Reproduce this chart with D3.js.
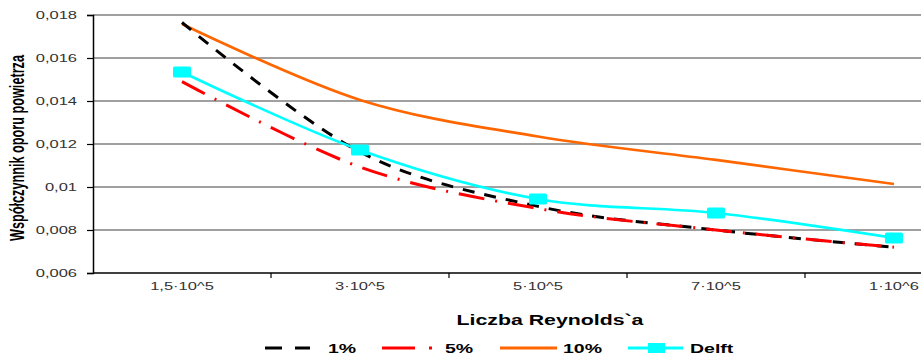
<!DOCTYPE html>
<html>
<head>
<meta charset="utf-8">
<script src="https://cdn.jsdelivr.net/npm/d3@7/dist/d3.min.js"></script>
<style>
  html, body { margin: 0; padding: 0; background: #fff; overflow: hidden; }
  svg { display: block; font-family: "Liberation Sans", Arial, sans-serif; }
</style>
</head>
<body>
<svg id="chart" width="921" height="356"></svg>
<script>
// Reynolds number categories
const categories = ["1,5·10^5", "3·10^5", "5·10^5", "7·10^5", "1·10^6"];

// Air drag coefficient for each series
const series1 = [0.01765, 0.01163, 0.0091, 0.0080, 0.0072];
const series5 = [0.0149, 0.01093, 0.0090, 0.0080, 0.0072];
const series10 = [0.01758, 0.01405, 0.01235, 0.01126, 0.01014];
const seriesDelft = [0.01535, 0.01172, 0.00944, 0.00879, 0.00763];

const seriesNames = ["1%", "5%", "10%", "Delft"];

const yTickValues = [0.006, 0.008, 0.010, 0.012, 0.014, 0.016, 0.018];
const yTickLabels = ["0,006", "0,008", "0,01", "0,012", "0,014", "0,016", "0,018"];

const svg = d3.select("#chart");

const plot = { left: 93, top: 15, bottom: 273, band: 178 };

const x = d3.scaleBand()
  .domain(categories)
  .range([plot.left, plot.left + plot.band * categories.length])
  .paddingInner(0).paddingOuter(0);

const y = d3.scaleLinear()
  .domain([0.006, 0.018])
  .range([plot.bottom, plot.top]);

const cx = d => x(d) + x.bandwidth() / 2;

// Horizontally widened text helper
function wideText(g, str, px, py, opts) {
  const t = g.append("text")
    .attr("transform", `translate(${px},${py}) scale(${opts.sx || 1.5},1)`)
    .attr("font-size", opts.size)
    .attr("font-weight", opts.weight || "normal")
    .attr("fill", opts.fill || "#000")
    .attr("text-anchor", opts.anchor || "start")
    .text(str);
  return t;
}

// Gridlines
svg.append("g")
  .selectAll("line")
  .data(yTickValues.slice(1))
  .join("line")
  .attr("x1", plot.left).attr("x2", plot.left + plot.band * categories.length)
  .attr("y1", d => y(d)).attr("y2", d => y(d))
  .attr("stroke", "#a0a0a0").attr("stroke-width", 2);

// Y axis
const yAxis = svg.append("g")
  .attr("transform", `translate(${plot.left},0)`)
  .call(d3.axisLeft(y).tickValues(yTickValues).tickSize(6).tickFormat(""));
yAxis.select(".domain").attr("stroke", "#000").attr("stroke-width", 1.5);
yAxis.selectAll(".tick line").attr("stroke", "#000").attr("stroke-width", 1.2);

const yLabels = svg.append("g");
yTickValues.forEach((v, i) => {
  wideText(yLabels, yTickLabels[i], 77, y(v) + 4, { size: 11, anchor: "end", fill: "#333", sx: 1.5 });
});

// X axis with ticks at band boundaries
const xAxisG = svg.append("g").attr("transform", `translate(0,${plot.bottom})`);
xAxisG.append("line")
  .attr("x1", plot.left).attr("x2", plot.left + plot.band * categories.length)
  .attr("stroke", "#000").attr("stroke-width", 1.5);
xAxisG.selectAll("line.tick")
  .data(categories.slice(1))
  .join("line")
  .attr("class", "tick")
  .attr("x1", d => x(d)).attr("x2", d => x(d))
  .attr("y1", 0).attr("y2", 5)
  .attr("stroke", "#000").attr("stroke-width", 1.2);

const xLabels = svg.append("g");
categories.forEach(c => {
  wideText(xLabels, c, cx(c), 290, { size: 11, anchor: "middle", fill: "#333", sx: 1.5 });
});

// Axis titles
wideText(svg, "Liczba Reynolds`a", 550, 325, { size: 15, weight: "bold", anchor: "middle", sx: 1.42 });

svg.append("text")
  .attr("transform", `translate(24,148) scale(1.5,1) rotate(-90)`)
  .attr("font-size", 13.5)
  .attr("font-weight", "bold")
  .attr("text-anchor", "middle")
  .attr("textLength", 186)
  .attr("lengthAdjust", "spacingAndGlyphs")
  .text("Współczynnik oporu powietrza");

// Lines
const line = d3.line()
  .x((d, i) => cx(categories[i]))
  .y(d => y(d))
  .curve(d3.curveCatmullRom.alpha(0));

const styles = [
  { data: series10, color: "#ff6600", width: 2.6, dash: null },
  { data: series1, color: "#000", width: 3, dash: "12,10" },
  { data: series5, color: "#ff0000", width: 3, dash: "26,11,2,11" },
  { data: seriesDelft, color: "#00ffff", width: 2.6, dash: null }
];

svg.append("g")
  .selectAll("path")
  .data(styles)
  .join("path")
  .attr("d", d => line(d.data))
  .attr("fill", "none")
  .attr("stroke", d => d.color)
  .attr("stroke-width", d => d.width)
  .attr("stroke-dasharray", d => d.dash);

// Delft markers
svg.append("g")
  .selectAll("rect")
  .data(seriesDelft)
  .join("rect")
  .attr("x", (d, i) => cx(categories[i]) - 9)
  .attr("y", d => y(d) - 5.5)
  .attr("width", 18).attr("height", 11)
  .attr("rx", 1.5)
  .attr("fill", "#00ffff");

// Legend
const legend = svg.append("g");
const legendY = 348;
const legendItems = [
  { name: seriesNames[0], x1: 265, x2: 310, color: "#000", dash: "17,13", tx: 328 },
  { name: seriesNames[1], x1: 382, x2: 432, color: "#ff0000", dash: "33,14,3,14", tx: 445 },
  { name: seriesNames[2], x1: 500, x2: 557, color: "#ff6600", dash: null, tx: 563 },
  { name: seriesNames[3], x1: 628, x2: 683, color: "#00ffff", dash: null, tx: 690, marker: true }
];
legendItems.forEach(it => {
  legend.append("line")
    .attr("x1", it.x1).attr("x2", it.x2)
    .attr("y1", legendY).attr("y2", legendY)
    .attr("stroke", it.color).attr("stroke-width", 3)
    .attr("stroke-dasharray", it.dash);
  if (it.marker) {
    legend.append("rect")
      .attr("x", 648).attr("y", legendY - 5)
      .attr("width", 17).attr("height", 10)
      .attr("fill", it.color);
  }
  wideText(legend, it.name, it.tx, 353, { size: 13, weight: "bold", sx: 1.5 });
});
</script>
</body>
</html>
